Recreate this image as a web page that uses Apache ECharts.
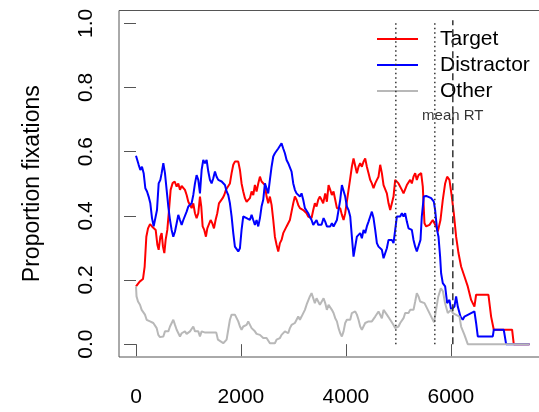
<!DOCTYPE html>
<html><head><meta charset="utf-8">
<script src="https://cdn.jsdelivr.net/npm/echarts@6/dist/echarts.min.js"></script>
<style>html,body{margin:0;padding:0;background:#fff}#c{width:539px;height:412px}</style>
</head><body><div id="c"></div>
<script>
// [time (ms), proportion of fixations]
const targetSeries = [[0,.18],[70,.195],[133,.203],[165,.242],[197,.335],[229,.361],[267,.374],[305,.367],[343,.372],[375,.356],[407,.31],[432,.294],[464,.335],[489,.346],[514,.304],[540,.284],[565,.325],[597,.356],[629,.418],[660,.481],[698,.502],[737,.507],[775,.491],[806,.501],[838,.481],[870,.493],[902,.493],[933,.481],[965,.465],[997,.444],[1029,.434],[1060,.424],[1092,.439],[1124,.408],[1155,.393],[1187,.408],[1219,.46],[1244,.429],[1270,.367],[1301,.356],[1333,.335],[1359,.361],[1390,.356],[1422,.387],[1454,.377],[1486,.361],[1517,.387],[1549,.408],[1581,.439],[1619,.444],[1651,.455],[1682,.465],[1714,.481],[1746,.486],[1790,.501],[1822,.533],[1854,.559],[1885,.569],[1917,.574],[1949,.569],[1981,.543],[2012,.501],[2044,.476],[2076,.455],[2108,.444],[2139,.448],[2171,.455],[2203,.476],[2235,.465],[2266,.496],[2298,.476],[2330,.501],[2362,.522],[2393,.507],[2425,.512],[2457,.496],[2489,.46],[2520,.439],[2552,.46],[2584,.434],[2616,.387],[2647,.335],[2679,.31],[2711,.289],[2743,.315],[2774,.325],[2806,.346],[2838,.351],[2870,.367],[2901,.372],[2933,.387],[2965,.413],[2997,.439],[3028,.46],[3060,.45],[3092,.434],[3124,.424],[3155,.429],[3187,.418],[3219,.413],[3251,.408],[3282,.398],[3314,.396],[3346,.393],[3378,.418],[3409,.439],[3441,.429],[3473,.45],[3505,.46],[3536,.45],[3568,.439],[3606,.47],[3638,.444],[3670,.496],[3702,.481],[3733,.465],[3765,.476],[3797,.45],[3829,.424],[3860,.418],[3892,.424],[3924,.403],[3956,.387],[3987,.408],[4019,.444],[4051,.481],[4083,.517],[4114,.553],[4146,.579],[4178,.574],[4210,.533],[4241,.553],[4273,.564],[4305,.553],[4337,.569],[4368,.579],[4400,.553],[4432,.533],[4464,.512],[4495,.501],[4527,.486],[4559,.501],[4591,.512],[4622,.522],[4654,.559],[4686,.533],[4718,.496],[4749,.491],[4781,.47],[4813,.439],[4845,.418],[4876,.413],[4908,.46],[4940,.512],[4972,.507],[5003,.501],[5035,.496],[5067,.481],[5099,.47],[5130,.476],[5162,.496],[5194,.496],[5225,.512],[5257,.501],[5289,.522],[5321,.533],[5352,.512],[5384,.527],[5435,.533],[5466,.491],[5498,.377],[5530,.367],[5593,.372],[5657,.387],[5688,.377],[5720,.367],[5752,.351],[5803,.387],[5847,.45],[5892,.501],[5930,.522],[5974,.512],[6019,.46],[6057,.408],[6101,.335],[6146,.284],[6196,.242],[6260,.211],[6323,.18],[6387,.138],[6450,.117],[6482,.154],[6717,.154],[6768,.086],[6819,.045],[7168,.045],[7200,0],[7498,0]];

const distractorSeries = [[0,.587],[25,.585],[51,.559],[83,.543],[114,.553],[146,.533],[178,.486],[210,.476],[241,.46],[273,.439],[305,.393],[337,.367],[368,.361],[400,.418],[432,.501],[464,.512],[489,.533],[521,.564],[552,.533],[584,.481],[616,.429],[648,.387],[679,.356],[711,.335],[743,.351],[775,.377],[806,.403],[838,.387],[870,.372],[902,.387],[933,.393],[965,.413],[997,.429],[1029,.434],[1060,.439],[1092,.465],[1124,.501],[1155,.527],[1187,.512],[1219,.47],[1251,.543],[1282,.574],[1314,.564],[1346,.574],[1378,.538],[1409,.512],[1441,.501],[1473,.517],[1505,.538],[1536,.522],[1568,.512],[1600,.512],[1632,.507],[1663,.501],[1695,.496],[1727,.476],[1758,.465],[1790,.439],[1822,.398],[1854,.346],[1885,.304],[1917,.299],[1949,.289],[1981,.299],[2012,.356],[2044,.398],[2076,.398],[2108,.393],[2139,.396],[2171,.387],[2203,.403],[2235,.387],[2266,.372],[2298,.387],[2330,.367],[2362,.393],[2393,.429],[2425,.45],[2457,.501],[2489,.501],[2520,.47],[2552,.512],[2584,.553],[2616,.585],[2647,.595],[2679,.6],[2711,.61],[2743,.616],[2774,.626],[2806,.61],[2838,.595],[2870,.574],[2901,.564],[2933,.564],[2965,.538],[2997,.501],[3028,.481],[3060,.47],[3092,.465],[3124,.46],[3155,.47],[3187,.45],[3219,.424],[3251,.418],[3282,.408],[3314,.396],[3346,.387],[3378,.372],[3409,.367],[3441,.387],[3473,.372],[3505,.367],[3536,.372],[3575,.393],[3606,.382],[3638,.367],[3670,.372],[3702,.367],[3733,.377],[3765,.367],[3797,.361],[3829,.387],[3860,.393],[3892,.45],[3924,.496],[3956,.491],[3987,.46],[4019,.429],[4051,.418],[4083,.398],[4114,.335],[4146,.273],[4178,.304],[4210,.335],[4241,.33],[4273,.346],[4305,.33],[4337,.356],[4368,.346],[4400,.367],[4432,.382],[4464,.398],[4495,.413],[4527,.393],[4559,.356],[4591,.315],[4622,.304],[4654,.31],[4686,.294],[4718,.268],[4749,.263],[4781,.299],[4813,.325],[4845,.32],[4876,.325],[4908,.315],[4940,.356],[4972,.398],[5003,.403],[5035,.398],[5067,.408],[5099,.398],[5130,.408],[5162,.382],[5194,.361],[5225,.367],[5257,.356],[5289,.325],[5321,.304],[5352,.289],[5384,.289],[5422,.325],[5447,.398],[5485,.46],[5530,.462],[5625,.455],[5676,.444],[5701,.418],[5739,.356],[5765,.335],[5796,.273],[5815,.221],[5847,.19],[5892,.18],[5930,.128],[5974,.138],[6006,.107],[6069,.117],[6101,.149],[6133,.117],[6184,.086],[6228,.076],[6260,.086],[6450,.102],[6482,.066],[6514,.024],[6800,.024],[6819,.045],[7009,.045],[7054,0],[7498,0]];

const otherSeries = [[0,.18],[10,.149],[38,.133],[76,.123],[108,.107],[140,.102],[171,.092],[203,.076],[235,.081],[267,.071],[298,.071],[330,.066],[362,.066],[394,.05],[425,.029],[457,.022],[521,.024],[552,.04],[584,.045],[616,.04],[648,.055],[679,.06],[711,.076],[743,.06],[775,.045],[806,.04],[838,.024],[870,.034],[902,.034],[933,.04],[965,.032],[997,.032],[1029,.04],[1060,.045],[1092,.055],[1124,.04],[1155,.045],[1187,.04],[1219,.024],[1251,.04],[1282,.034],[1320,.036],[1530,.036],[1562,.014],[1600,.009],[1663,.003],[1727,.014],[1758,.045],[1790,.076],[1822,.092],[1854,.097],[1885,.092],[1917,.086],[1949,.071],[1981,.055],[2012,.045],[2044,.055],[2076,.05],[2108,.06],[2139,.071],[2171,.066],[2203,.05],[2235,.045],[2266,.04],[2298,.032],[2330,.032],[2362,.029],[2393,.024],[2425,.019],[2489,.019],[2520,.014],[2552,.003],[2647,.003],[2679,.014],[2711,.019],[2743,.019],[2774,.029],[2806,.024],[2838,.04],[2870,.045],[2901,.034],[2933,.05],[2965,.06],[2997,.055],[3028,.066],[3060,.071],[3092,.086],[3124,.076],[3155,.086],[3187,.092],[3219,.107],[3251,.123],[3282,.128],[3314,.149],[3346,.159],[3378,.154],[3409,.128],[3441,.143],[3473,.138],[3505,.123],[3536,.128],[3575,.143],[3606,.128],[3638,.107],[3670,.123],[3702,.117],[3733,.107],[3765,.097],[3797,.081],[3829,.071],[3860,.05],[3892,.034],[3924,.024],[3956,.04],[3987,.066],[4019,.076],[4051,.071],[4083,.076],[4114,.097],[4146,.102],[4178,.102],[4210,.092],[4241,.076],[4273,.055],[4305,.045],[4337,.045],[4368,.066],[4400,.066],[4432,.071],[4464,.068],[4495,.071],[4527,.076],[4559,.086],[4591,.092],[4622,.102],[4654,.097],[4686,.081],[4718,.107],[4749,.102],[4781,.092],[4813,.086],[4845,.076],[4876,.071],[4908,.06],[4940,.05],[4972,.045],[5003,.055],[5035,.066],[5067,.071],[5099,.081],[5130,.097],[5162,.102],[5194,.097],[5225,.107],[5257,.112],[5289,.107],[5321,.133],[5352,.159],[5384,.149],[5416,.133],[5448,.128],[5498,.128],[5562,.107],[5680,.068],[5760,.148],[5810,.174],[5850,.165],[5890,.128],[5942,.097],[5974,.092],[6006,.107],[6038,.097],[6165,.086],[6196,.055],[6260,.029],[6323,0],[7498,0]];

const seriesNames = ['Target', 'Distractor', 'Other'];
const seriesColors = ['#ff0000', '#0000ff', '#b8b8b8'];
const xTicks = [0, 2000, 4000, 6000];
const yTicks = [0, 0.2, 0.4, 0.6, 0.8, 1.0];
const dottedLines = [4952, 5695];
const meanRT = 6038;
const refLineTop = 1.01;
const yTitle = 'Proportion fixations';
const rtLabel = 'mean RT';

const FONT = '"Liberation Sans", Arial, Helvetica, sans-serif';
const chart = echarts.init(document.getElementById('c'), null, {renderer: 'canvas'});

function vline(t, type) {
  return {
    type: 'line', data: [[t, 0], [t, refLineTop]], symbol: 'none', silent: true,
    lineStyle: {color: '#333', width: 1.5, type: type}, z: 5, legendHoverLink: false
  };
}

const dataLists = [targetSeries, distractorSeries, otherSeries];
const series = dataLists.map((d, i) => ({
  name: seriesNames[i], type: 'line', data: d, symbol: 'none',
  lineStyle: {color: seriesColors[i], width: 2}, itemStyle: {color: seriesColors[i]}, z: 3
}));
dottedLines.forEach(t => series.push(vline(t, [1.5, 3])));
series.push(vline(meanRT, [7, 4]));
series.push({
  type: 'scatter', data: [[meanRT, 0.711]], symbolSize: 0, silent: true,
  label: {show: true, position: 'inside', formatter: rtLabel, color: '#000', fontSize: 15, fontFamily: FONT}
});

chart.setOption({
  animation: false,
  backgroundColor: '#fff',
  grid: {left: 119, right: -39, top: 10.5, bottom: 55, show: true, borderColor: '#555', borderWidth: 1, containLabel: false, outerBoundsMode: 'none'},
  xAxis: {
    type: 'value', min: -324, max: 8424,
    splitLine: {show: false}, axisLine: {show: false},
    axisTick: {show: true, length: 12, inside: false, customValues: xTicks, lineStyle: {color: '#555', width: 1}},
    axisLabel: {customValues: xTicks, margin: 30, fontSize: 21, color: '#000', fontFamily: FONT,
      formatter: v => String(v)}
  },
  yAxis: {
    type: 'value', min: -0.04, max: 1.04,
    splitLine: {show: false}, axisLine: {show: false},
    axisTick: {show: true, length: 12, customValues: yTicks, lineStyle: {color: '#555', width: 1}},
    axisLabel: {customValues: yTicks, rotate: 90, margin: 22, fontSize: 21, color: '#000', fontFamily: FONT,
      formatter: v => v.toFixed(1)}
  },
  legend: {
    data: seriesNames, orient: 'vertical', left: 372, top: 23, itemWidth: 41, itemHeight: 2,
    icon: 'rect', itemGap: 4, selectedMode: false,
    textStyle: {fontSize: 21, lineHeight: 22, color: '#000', fontFamily: FONT, padding: [0, 0, 0, 17]}
  },
  graphic: [{
    type: 'text', x: 33, y: 183.7, rotation: Math.PI / 2,
    style: {text: yTitle, font: '23px ' + FONT, fill: '#000', textAlign: 'center', textVerticalAlign: 'middle'}
  }],
  series: series
});
</script></body></html>
